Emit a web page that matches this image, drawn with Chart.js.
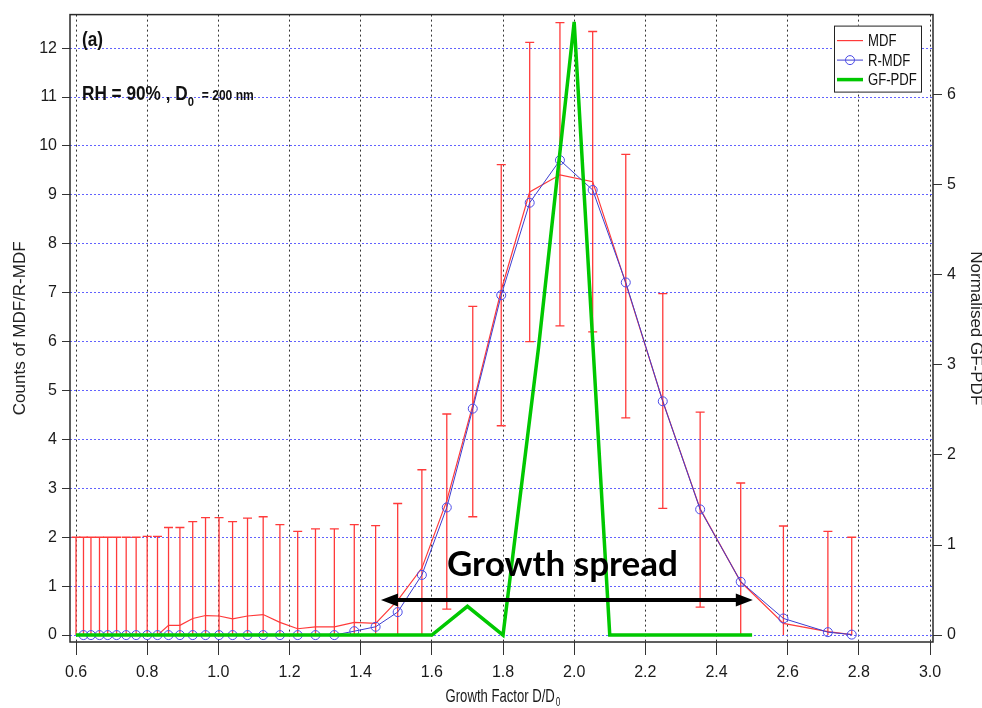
<!DOCTYPE html>
<html>
<head>
<meta charset="utf-8">
<script src="https://cdn.jsdelivr.net/npm/chart.js@4.4.1/dist/chart.umd.min.js"></script>
<style>
  body { margin: 0; background: #fff; }
</style>
</head>
<body>
<canvas id="gfChart" width="982" height="708"></canvas>
<script>
// --- data ---

// growth factor bins (D/D0) of the MDF / R-MDF counts
const gfBins = [0.600, 0.621, 0.642, 0.666, 0.689, 0.714, 0.741, 0.769, 0.800, 0.829,
                0.860, 0.892, 0.928, 0.964, 1.002, 1.040, 1.082, 1.126, 1.173, 1.223,
                1.273, 1.326, 1.382, 1.442, 1.504, 1.572, 1.642, 1.715, 1.795, 1.875,
                1.960, 2.052, 2.145, 2.249, 2.354, 2.468, 2.588, 2.713, 2.780];

// MDF counts (red line)
const mdfCounts = [0, 0, 0, 0, 0, 0, 0, 0, 0, 0,
                   0.20, 0.20, 0.34, 0.40, 0.39, 0.33, 0.39, 0.42, 0.26, 0.13,
                   0.17, 0.17, 0.26, 0.24, 0.71, 1.37, 2.75, 4.70, 7.05, 9.06,
                   9.41, 9.27, 7.19, 4.78, 2.58, 1.09, 0.24, 0.07, 0.01];

// R-MDF counts (blue circles), no value in the first bin
const rmdfCounts = [null, 0, 0, 0, 0, 0, 0, 0, 0, 0,
                    0, 0, 0, 0, 0, 0, 0, 0, 0, 0,
                    0, 0, 0.08, 0.17, 0.47, 1.23, 2.61, 4.63, 6.95, 8.84,
                    9.71, 9.10, 7.21, 4.78, 2.57, 1.09, 0.34, 0.06, 0.01];

// error bar limits
const errLow = [0, 0, 0, 0, 0, 0, 0, 0, 0, 0,
                0, 0, 0, 0, 0, 0, 0, 0, 0, 0,
                0, 0, 0, 0, 0, 0, 0.53, 2.42, 4.28, 6.00,
                6.32, 6.20, 4.44, 2.59, 0.57, 0, 0, 0, 0];
const errHigh = [2.00, 2.00, 2.00, 2.00, 2.00, 2.00, 2.00, 2.00, 2.02, 2.02,
                 2.20, 2.20, 2.32, 2.40, 2.40, 2.32, 2.39, 2.42, 2.26, 2.12,
                 2.17, 2.17, 2.26, 2.24, 2.69, 3.38, 4.52, 6.72, 9.62, 12.12,
                 12.52, 12.34, 9.83, 6.98, 4.56, 3.11, 2.23, 2.12, 2.00];

// normalised GF-PDF (right axis)
const pdfGrid = [0.6, 0.7, 0.8, 0.9, 1.0, 1.1, 1.2, 1.3, 1.4, 1.5,
                 1.6, 1.7, 1.8, 1.9, 2.0, 2.1, 2.2, 2.3, 2.4, 2.5];
const pdfValues = [0, 0, 0, 0, 0, 0, 0, 0, 0, 0,
                   0, 0.32, 0, 3.2, 6.81, 0, 0, 0, 0, 0];

// ticks
const xTicks = [0.6, 0.8, 1.0, 1.2, 1.4, 1.6, 1.8, 2.0, 2.2, 2.4, 2.6, 2.8, 3.0];
const yLeftTicks = [0, 1, 2, 3, 4, 5, 6, 7, 8, 9, 10, 11, 12];
const yRightTicks = [0, 1, 2, 3, 4, 5, 6];

// "Growth spread" arrow
const spreadFrom = 1.457;
const spreadTo = 2.502;
const spreadLevel = 0.72;

const SANS = "'Liberation Sans', Arial, sans-serif";
const RED = '#ff3a3a';
const BLUE = '#3d3dd0';
const GREEN = '#00c800';

// squeezed text, to get the narrow look of the original labels
function narrowText(ctx, text, x, y, font, sx) {
  ctx.font = font;
  ctx.save();
  ctx.translate(x, y);
  ctx.scale(sx, 1);
  ctx.fillText(text, 0, 0);
  ctx.restore();
  return ctx.measureText(text).width * sx;
}

// 1. Error bars, drawn under the lines
const errorBars = {
  id: 'errorBars',
  beforeDatasetsDraw(chart) {
    const { ctx, chartArea, scales: { x, y } } = chart;
    ctx.save();
    ctx.beginPath();
    ctx.rect(chartArea.left, chartArea.top, chartArea.width, chartArea.height);
    ctx.clip();
    ctx.strokeStyle = RED;
    ctx.lineWidth = 1.3;
    gfBins.forEach((g, i) => {
      const px = x.getPixelForValue(g);
      const top = y.getPixelForValue(errHigh[i]);
      const bot = y.getPixelForValue(errLow[i]);
      ctx.beginPath();
      ctx.moveTo(px, bot);
      ctx.lineTo(px, top);
      ctx.moveTo(px - 4.5, top);
      ctx.lineTo(px + 4.5, top);
      if (errLow[i] > 0) {
        ctx.moveTo(px - 4.5, bot);
        ctx.lineTo(px + 4.5, bot);
      }
      ctx.stroke();
    });
    ctx.restore();
  }
};

// 2. Frame, labels, arrow and the boxed legend
const decorations = {
  id: 'decorations',
  afterDatasetsDraw(chart) {
    const { ctx, chartArea: a, scales: { x, y } } = chart;
    ctx.save();

    // arrow
    const x1 = x.getPixelForValue(spreadFrom);
    const x2 = x.getPixelForValue(spreadTo);
    const ay = y.getPixelForValue(spreadLevel);
    const head = 17, half = 6.5;
    ctx.strokeStyle = '#000';
    ctx.fillStyle = '#000';
    ctx.lineWidth = 4;
    ctx.beginPath();
    ctx.moveTo(x1 + head - 2, ay);
    ctx.lineTo(x2 - head + 2, ay);
    ctx.stroke();
    ctx.beginPath();
    ctx.moveTo(x1, ay);
    ctx.lineTo(x1 + head, ay - half);
    ctx.lineTo(x1 + head, ay + half);
    ctx.closePath();
    ctx.moveTo(x2, ay);
    ctx.lineTo(x2 - head, ay - half);
    ctx.lineTo(x2 - head, ay + half);
    ctx.closePath();
    ctx.fill();

    ctx.font = "bold 35px Lato, 'Open Sans', sans-serif";
    ctx.textAlign = 'center';
    ctx.textBaseline = 'alphabetic';
    ctx.fillText('Growth spread', x.getPixelForValue(1.967), y.getPixelForValue(1.21));

    // panel label and conditions
    ctx.fillStyle = '#111';
    ctx.textAlign = 'left';
    narrowText(ctx, '(a)', a.left + 12, a.top + 31, 'bold 20px ' + SANS, 0.86);
    let tx = a.left + 12;
    const base = a.top + 85;
    tx += narrowText(ctx, 'RH = 90% , D', tx, base, 'bold 20px ' + SANS, 0.86);
    tx += narrowText(ctx, '0', tx, base + 6, 'bold 13px ' + SANS, 0.86) + 8;
    narrowText(ctx, '= 200 nm', tx, base, 'bold 14px ' + SANS, 0.86);

    // x axis title with subscript
    ctx.font = '19px ' + SANS;
    const main = 'Growth Factor D/D';
    const wMain = ctx.measureText(main).width * 0.69;
    ctx.font = '12px ' + SANS;
    const wSub = ctx.measureText('0').width * 0.69;
    const bx = (a.left + a.right) / 2 + 1 - (wMain + wSub) / 2;
    ctx.fillStyle = '#1a1a1a';
    narrowText(ctx, main, bx, 702, '19px ' + SANS, 0.69);
    narrowText(ctx, '0', bx + wMain + 1, 706, '12px ' + SANS, 0.69);

    // frame
    ctx.strokeStyle = '#2a2a2a';
    ctx.lineWidth = 1.5;
    ctx.strokeRect(a.left, a.top, a.right - a.left, a.bottom - a.top);

    // legend box
    const lx = a.right - 99, ly = a.top + 11, lw = 87, lh = 66;
    ctx.fillStyle = '#fff';
    ctx.fillRect(lx, ly, lw, lh);
    ctx.strokeStyle = '#222';
    ctx.lineWidth = 1;
    ctx.strokeRect(lx + 0.5, ly + 0.5, lw, lh);
    const items = ['MDF', 'R-MDF', 'GF-PDF'].map(l => chart.data.datasets.find(d => d.label === l));
    items.forEach((d, i) => {
      const ry = ly + 15 + i * 19.5;
      ctx.strokeStyle = d.borderColor;
      ctx.lineWidth = d.borderWidth;
      ctx.beginPath();
      ctx.moveTo(lx + 3, ry);
      ctx.lineTo(lx + 29, ry);
      ctx.stroke();
      if (d.pointRadius) {
        ctx.strokeStyle = d.pointBorderColor;
        ctx.lineWidth = 1;
        ctx.beginPath();
        ctx.arc(lx + 16, ry, d.pointRadius, 0, Math.PI * 2);
        ctx.stroke();
      }
      ctx.fillStyle = '#111';
      ctx.textBaseline = 'middle';
      narrowText(ctx, d.label, lx + 34, ry + 1, '16px ' + SANS, 0.82);
    });
    ctx.restore();
  }
};

function fixedTicks(values) {
  return scale => { scale.ticks = values.map(v => ({ value: v })); };
}

// 3. Draw the chart
const ctx = document.getElementById('gfChart').getContext('2d');
new Chart(ctx, {
  type: 'line',
  data: {
    datasets: [
      {
        label: 'GF-PDF',
        data: pdfGrid.map((g, i) => ({ x: g, y: pdfValues[i] })),
        yAxisID: 'y2',
        borderColor: GREEN,
        borderWidth: 3.5,
        pointRadius: 0,
        tension: 0,
        order: 0
      },
      {
        label: 'R-MDF',
        data: gfBins.map((g, i) => ({ x: g, y: rmdfCounts[i] })),
        yAxisID: 'y',
        borderColor: BLUE,
        borderWidth: 1,
        pointRadius: 4.5,
        pointBorderColor: '#4b4be8',
        pointBackgroundColor: 'rgba(0,0,0,0)',
        pointBorderWidth: 1,
        tension: 0,
        order: 1
      },
      {
        label: 'MDF',
        data: gfBins.map((g, i) => ({ x: g, y: mdfCounts[i] })),
        yAxisID: 'y',
        borderColor: RED,
        borderWidth: 1.2,
        pointRadius: 0,
        tension: 0,
        order: 2
      }
    ]
  },
  options: {
    responsive: false,
    animation: false,
    layout: { padding: { top: 6, left: 0, right: 0, bottom: 0 } },
    plugins: { legend: { display: false }, tooltip: { enabled: false } },
    scales: {
      x: {
        type: 'linear',
        min: 0.5831,
        max: 3.0084,
        afterBuildTicks: fixedTicks(xTicks),
        afterFit: s => { s.height = 66; },
        grid: { color: '#333', lineWidth: 1, tickLength: 13, tickColor: '#333' },
        border: { display: false, dash: [2, 3] },
        ticks: {
          color: '#1a1a1a', padding: 8, maxRotation: 0,
          font: { family: SANS, size: 16 },
          callback: v => v.toFixed(1)
        }
      },
      y: {
        type: 'linear',
        position: 'left',
        min: -0.1412,
        max: 12.686,
        afterBuildTicks: fixedTicks(yLeftTicks),
        afterFit: s => { s.width = 70; },
        grid: { color: 'rgba(70,70,255,0.85)', lineWidth: 1, tickLength: 8, tickColor: '#333' },
        border: { display: false, dash: [2, 2] },
        ticks: { color: '#1a1a1a', padding: 5, font: { family: SANS, size: 16 } },
        title: {
          display: true, text: 'Counts of MDF/R-MDF', color: '#222',
          font: { family: SANS, size: 17, lineHeight: 1.2 }, padding: { top: 10 }
        }
      },
      y2: {
        type: 'linear',
        position: 'right',
        min: -0.0767,
        max: 6.8907,
        afterBuildTicks: fixedTicks(yRightTicks),
        afterFit: s => { s.width = 49; },
        grid: { drawOnChartArea: false, tickLength: 9, tickColor: '#333' },
        border: { display: false },
        ticks: { color: '#1a1a1a', padding: 5, font: { family: SANS, size: 16 } },
        title: {
          display: true, text: 'Normalised GF-PDF', color: '#222',
          font: { family: SANS, size: 17, lineHeight: 0.8 }, padding: { top: 0 }
        }
      }
    }
  },
  plugins: [errorBars, decorations]
});
</script>
</body>
</html>
